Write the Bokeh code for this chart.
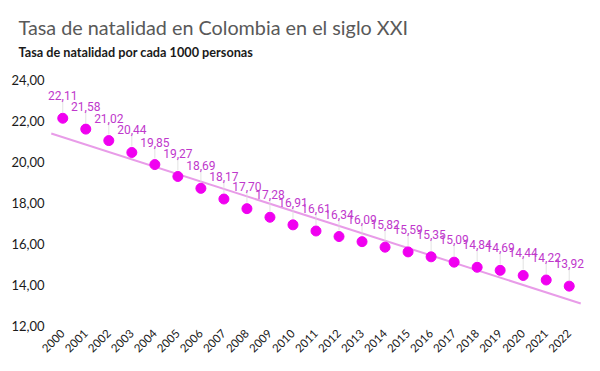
import math
import numpy as np
from bokeh.plotting import figure
from bokeh.models import Range1d, FixedTicker, Title, ColumnDataSource, LabelSet
from bokeh.core.properties import value
from bokeh.embed import file_html
from bokeh.resources import INLINE

# ---- data ----
years = [str(y) for y in range(2000, 2023)]
natalidad = [22.11, 21.58, 21.02, 20.44, 19.85, 19.27, 18.69, 18.17, 17.70, 17.28,
             16.91, 16.61, 16.34, 16.09, 15.82, 15.59, 15.35, 15.09, 14.84, 14.69,
             14.44, 14.22, 13.92]
y_ticks = [12, 14, 16, 18, 20, 22, 24]
title_text = "Tasa de natalidad en Colombia en el siglo XXI"
subtitle_text = "Tasa de natalidad por cada 1000 personas"

idx = list(range(len(years)))
labels = [f"{v:.2f}".replace(".", ",") for v in natalidad]

pad = 0.75
frame_w, frame_h = 541, 246
y_min, y_max = 12, 24
px_per_unit = frame_h / (y_max - y_min)

p = figure(frame_width=frame_w, frame_height=frame_h, output_backend="svg", toolbar_location=None,
           x_range=Range1d(-pad, len(years) - 1 + pad), y_range=Range1d(y_min, y_max),
           min_border_left=0, min_border_right=0, min_border_bottom=0, min_border_top=0)
p.title = None
p.outline_line_color = None
p.grid.visible = False
p.background_fill_color = "white"
p.border_fill_color = "white"

# headings (first added = closest to the plot)
gap = Title(text=" ", align="left", text_font_size="1px", standoff=17)
sub = Title(text=subtitle_text, align="left", offset=-27, text_font="Lato",
            text_font_size="12.7px", text_font_style="bold", text_color="#1a1a1a", standoff=0)
main = Title(text=title_text, align="left", offset=-27, text_font="Lato",
             text_font_size="19.8px", text_font_style="normal", text_color="#595959", standoff=5)
top = Title(text=" ", align="left", text_font_size="1px", standoff=7)
p.add_layout(gap, "above")
p.add_layout(sub, "above")
p.add_layout(main, "above")
p.add_layout(top, "above")

# y axis
p.yaxis.ticker = FixedTicker(ticks=y_ticks)
p.yaxis.major_label_overrides = {t: f"{t:.2f}".replace(".", ",") for t in y_ticks}
p.yaxis.axis_line_color = None
p.yaxis.major_tick_line_color = None
p.yaxis.minor_tick_line_color = None
p.yaxis.major_tick_out = 0
p.yaxis.minor_tick_out = 0
p.yaxis.major_label_standoff = 1
p.yaxis.major_label_text_font = "Lato"
p.yaxis.major_label_text_font_size = "13px"
p.yaxis.major_label_text_color = "#1a1a1a"
p.yaxis.axis_label = " "
p.yaxis.axis_label_text_font_size = "1px"
p.yaxis.axis_label_standoff = 4

# x axis
p.xaxis.ticker = FixedTicker(ticks=idx)
p.xaxis.major_label_overrides = {i: years[i] for i in idx}
p.xaxis.major_label_orientation = math.pi / 4
p.xaxis.axis_line_color = None
p.xaxis.major_tick_line_color = None
p.xaxis.minor_tick_line_color = None
p.xaxis.major_tick_out = 0
p.xaxis.minor_tick_out = 0
p.xaxis.major_label_standoff = 6
p.xaxis.major_label_text_font = "Lato"
p.xaxis.major_label_text_font_size = "11.5px"
p.xaxis.major_label_text_color = "#1a1a1a"

# trend line (linear regression) across the full category span
coef = np.polyfit(idx, natalidad, 1)
tx = [-0.5, len(years) - 0.5]
ty = [coef[0] * x + coef[1] for x in tx]
p.line(tx, ty, line_color="#E89CE8", line_width=2)

src = ColumnDataSource(dict(x=idx, y=natalidad, lab=labels,
                            y0=[v + 6 / px_per_unit for v in natalidad],
                            y1=[v + 17 / px_per_unit for v in natalidad]))

# leader lines
p.segment(x0="x", y0="y0", x1="x", y1="y1", source=src, line_color="#dcdcdc", line_width=0.8)

p.scatter("x", "y", source=src, size=10, fill_color="#F000F0", line_color="#F000F0")

ls = LabelSet(x="x", y="y", text="lab", source=src, text_align="center",
              text_baseline="alphabetic", y_offset=18, text_font=value("Roboto"),
              text_font_size="12px", text_color="#C038CC")
p.add_layout(ls)

open("out.html", "w").write(file_html(p, INLINE))
